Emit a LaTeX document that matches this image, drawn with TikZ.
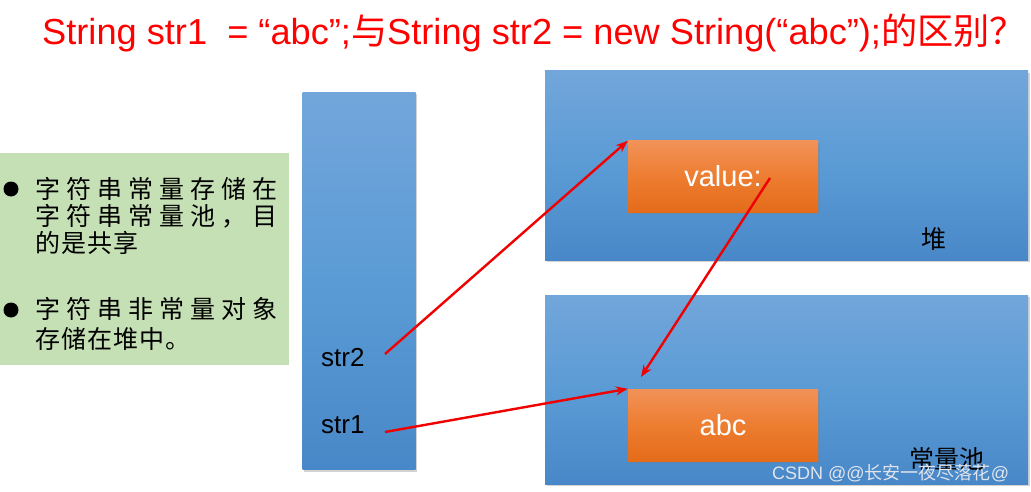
\documentclass[tikz,border=0pt]{standalone}
\usepackage{fontspec}
\setmainfont{Liberation Sans}
\newfontfamily\cjk{Noto Sans CJK SC}
\newfontfamily\cjksp{Noto Sans CJK SC}[LetterSpace=24]
\newfontfamily\cjkn{Noto Sans CJK SC}[LetterSpace=4]
\usetikzlibrary{arrows.meta,shadows}
\definecolor{titlered}{RGB}{255,0,0}
\definecolor{panelgreen}{RGB}{197,224,180}
\definecolor{bluetop}{RGB}{114,166,219}
\definecolor{bluemid}{RGB}{91,155,213}
\definecolor{bluebot}{RGB}{72,136,200}
\definecolor{orangetop}{RGB}{241,146,88}
\definecolor{orangemid}{RGB}{237,125,49}
\definecolor{orangebot}{RGB}{228,108,26}
\definecolor{arrowred}{RGB}{240,0,0}
\definecolor{markgray}{RGB}{225,228,235}
\tikzset{
  bluebox/.style={rectangle, inner sep=0pt, top color=bluetop, bottom color=bluebot, middle color=bluemid,
    drop shadow={shadow xshift=1.5pt, shadow yshift=-2pt, opacity=0.35}},
  orangebox/.style={rectangle, inner sep=0pt, top color=orangetop, bottom color=orangebot, middle color=orangemid,
    minimum width=190pt, minimum height=71pt, text=white, font=\fontsize{29}{32}\selectfont,
    drop shadow={shadow xshift=1.5pt, shadow yshift=-2pt, opacity=0.35}},
  bodytext/.style={anchor=base west, inner sep=0pt, font=\fontsize{25}{27}\selectfont},
  stacklabel/.style={anchor=base west, inner sep=0pt, font=\fontsize{26}{28}\selectfont},
  ptr/.style={draw=arrowred, line width=2.4pt, -{Stealth[length=12pt,width=9pt]}},
  bulletdot/.style={circle, fill=black, inner sep=0pt, minimum size=15pt},
  regionlabel/.style={font=\cjk\fontsize{25}{27}\selectfont, inner sep=0pt}
}
\begin{document}
\begin{tikzpicture}[x=1pt,y=-1pt]
\useasboundingbox[fill=white] (0,0) rectangle (1031,492);

% title
\node[anchor=base west, inner sep=0pt, text=titlered, font=\fontsize{36.2}{40}\selectfont] (title) at (42,45)
  {String str1\ \ = “abc”;{\cjk 与}String str2 = new String(“abc”);{\cjk 的区别}\rlap{\cjk ？}};

% green panel
\node[rectangle, fill=panelgreen, inner sep=0pt, minimum width=289pt, minimum height=212pt, anchor=north west] (panel) at (0,153) {};
\node[bulletdot] (b1) at (11,189) {};
\node[bulletdot] (b2) at (11,310) {};
\node[bodytext] (l1) at (35,198) {\cjksp 字符串常量存储在};
\node[bodytext] (l2) at (35,225) {\cjksp 字符串常量池，目};
\node[bodytext] (l3) at (35,252) {\cjkn 的是共享};
\node[bodytext] (l4) at (35,318) {\cjksp 字符串非常量对象};
\node[bodytext] (l5) at (35,348) {\cjkn 存储在堆中。};

% stack
\node[bluebox, minimum width=113pt, minimum height=377pt] (stack) at (359,281) {};
\node[stacklabel] (str2) at (321,366) {str2};
\node[stacklabel] (str1) at (321,433) {str1};

% heap
\node[bluebox, minimum width=483pt, minimum height=189pt] (heap) at (786.5,165.5) {};
\node[orangebox] (value) at (723,176.5) {value:};
\node[regionlabel] (heaplabel) at (934,239) {堆};

% constant pool
\node[bluebox, minimum width=483pt, minimum height=189pt] (pool) at (786.5,389.5) {};
\node[orangebox, minimum height=72pt] (abc) at (723,425) {abc};
\node[regionlabel] (poollabel) at (947,459) {常量池};

% pointers
\coordinate (s2p) at (385,354);
\coordinate (s1p) at (385,432);
\coordinate (vptr) at (770,178);
\coordinate (vend) at (641,377);
\draw[ptr] (s2p) -- (value.north west);
\draw[ptr] (s1p) -- (abc.north west);
\draw[ptr] (vptr) -- (vend);

% watermark
\node[anchor=base west, inner sep=0pt, text=markgray, font=\fontsize{18}{20}\selectfont] (mark) at (772,479)
  {CSDN @@{\cjk 长安一夜尽落花}@};
\end{tikzpicture}
\end{document}
